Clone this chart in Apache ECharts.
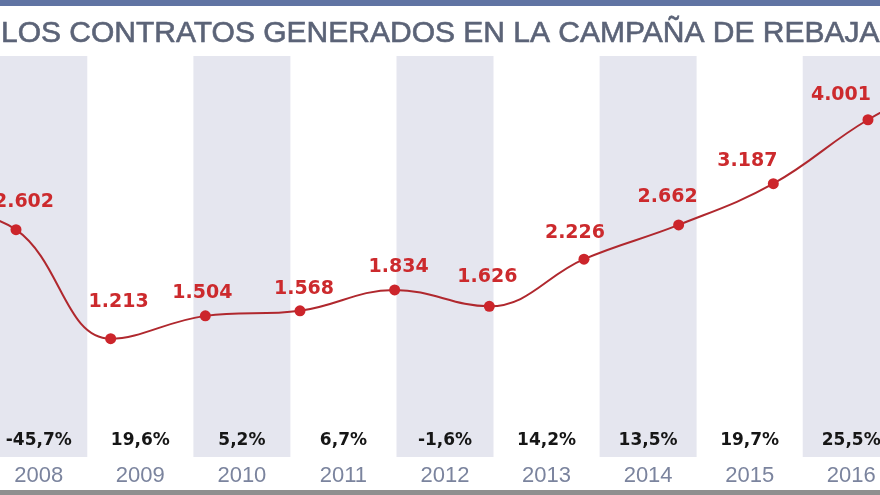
<!DOCTYPE html>
<html>
<head>
<meta charset="utf-8">
<script src="https://cdn.jsdelivr.net/npm/echarts@6/dist/echarts.min.js"></script>
<style>
  html, body { margin: 0; padding: 0; background: #ffffff; }
  #chart { width: 880px; height: 495px; }
</style>
</head>
<body>
<div id="chart"></div>
<script>
// ---- data ----
const titleText = 'LOS CONTRATOS GENERADOS EN LA CAMPAÑA DE REBAJAS';
const years = ['2008', '2009', '2010', '2011', '2012', '2013', '2014', '2015', '2016'];
const changes = ['-45,7%', '19,6%', '5,2%', '6,7%', '-1,6%', '14,2%', '13,5%', '19,7%', '25,5%'];
// visible labelled points (contracts)
const contracts = [2602, 1213, 1504, 1568, 1834, 1626, 2226, 2662, 3187, 4001];
// line continues off-picture on both sides (estimated from the visible segments)
const contractsBefore = 2900;
const contractsAfter = 4600;

// ---- chart ----
const chart = echarts.init(document.getElementById('chart'), null, { renderer: 'canvas' });

function fmt(v) {
  return String(v).replace(/\B(?=(\d{3})+(?!\d))/g, '.');
}

// label nudges (layout only)
const nudge = [[8, -5], [8, -14], [-3, 0], [4, 1], [4, 0], [-2, -6], [-9, -3], [-11, -5], [-26, 0], [-27, -2]];

const lineData = [];
lineData.push({ value: [-1, contractsBefore], symbol: 'none', label: { show: false } });
contracts.forEach((v, i) => {
  lineData.push({
    value: [i, v],
    label: { offset: nudge[i] }
  });
});
lineData.push({ value: [contracts.length, contractsAfter], symbol: 'none', label: { show: false } });

const option = {
  animation: false,
  backgroundColor: '#ffffff',
  title: {
    text: titleText,
    left: -4,
    top: 14,
    textStyle: {
      fontFamily: "'Liberation Sans', Arial, sans-serif",
      fontSize: 30,
      fontWeight: 'normal',
      color: '#5b6377',
      textBorderColor: '#5b6377',
      textBorderWidth: 0.6
    }
  },
  graphic: [
    { type: 'rect', shape: { x: 0, y: 0, width: 880, height: 6 }, style: { fill: '#6074a3' }, z: 100 },
    { type: 'rect', shape: { x: 0, y: 490, width: 880, height: 5 }, style: { fill: '#8f8f8f' }, z: 100 }
  ],
  grid: [
    { left: -12, width: 914, top: 56, height: 401, containLabel: false, outerBoundsMode: 'none' },
    { left: 0, width: 880, top: 57, height: 377, containLabel: false, outerBoundsMode: 'none' }
  ],
  xAxis: [
    {
      type: 'category',
      gridIndex: 0,
      data: years,
      boundaryGap: true,
      z: 10,
      axisLine: { show: false },
      axisTick: { show: false },
      splitLine: { show: false },
      axisLabel: {
        margin: -27,
        interval: 0,
        hideOverlap: false,
        formatter: function (value, index) {
          return '{p|' + changes[index] + '}\n{y|' + value + '}';
        },
        rich: {
          p: {
            fontFamily: "'DejaVu Sans', sans-serif",
            fontWeight: 'bold',
            fontSize: 17,
            color: '#161616',
            lineHeight: 22,
            align: 'center'
          },
          y: {
            fontFamily: "'Liberation Sans', sans-serif",
            fontSize: 22,
            color: '#7b849e',
            lineHeight: 48,
            align: 'center'
          }
        }
      }
    },
    {
      type: 'value',
      gridIndex: 1,
      min: -0.169,
      max: 9.127,
      show: false
    }
  ],
  yAxis: [
    { type: 'value', gridIndex: 0, min: 0, max: 1, show: false },
    { type: 'value', gridIndex: 1, min: 0, max: 4800, show: false }
  ],
  series: [
    {
      name: 'bands',
      type: 'bar',
      xAxisIndex: 0,
      yAxisIndex: 0,
      silent: true,
      barWidth: 97,
      z: 1,
      itemStyle: { color: '#e5e6ef' },
      data: years.map((y, i) => (i % 2 === 0 ? 1 : 0))
    },
    {
      name: 'Contratos',
      type: 'line',
      xAxisIndex: 1,
      yAxisIndex: 1,
      smooth: 0.4,
      symbol: 'circle',
      symbolSize: 11,
      lineStyle: { color: '#b0282e', width: 2 },
      itemStyle: { color: '#cc252b' },
      label: {
        show: true,
        position: 'top',
        distance: 8,
        formatter: function (p) { return fmt(p.value[1]); },
        fontFamily: "'DejaVu Sans', sans-serif",
        fontWeight: 'bold',
        fontSize: 19,
        color: '#cc2a2d'
      },
      data: lineData,
      z: 5
    }
  ]
};

chart.setOption(option);
</script>
</body>
</html>
